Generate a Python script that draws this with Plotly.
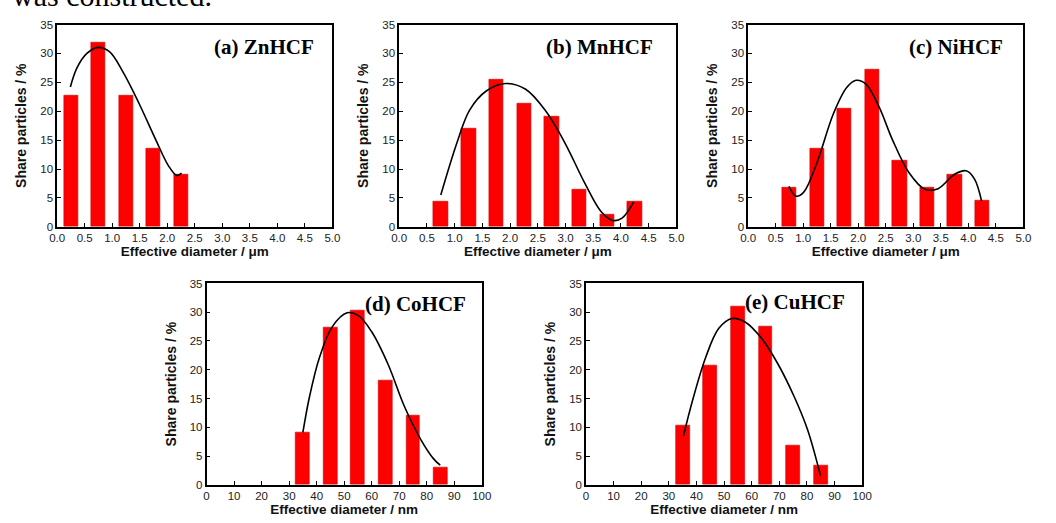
import plotly.graph_objects as go

W, H = 1056, 523

# ---- data ----
zn_x = [0.25, 0.75, 1.25, 1.75, 2.25]
zn_y = [22.7, 31.8, 22.7, 13.6, 9.1]
mn_x = [0.75, 1.25, 1.75, 2.25, 2.75, 3.25, 3.75, 4.25]
mn_y = [4.3, 17.0, 25.5, 21.3, 19.1, 6.4, 2.1, 4.3]
ni_x = [0.75, 1.25, 1.75, 2.25, 2.75, 3.25, 3.75, 4.25]
ni_y = [6.8, 13.6, 20.5, 27.3, 11.4, 6.8, 9.1, 4.5]
co_x = [35, 45, 55, 65, 75, 85]
co_y = [9.1, 27.3, 30.3, 18.2, 12.1, 3.0]
cu_x = [35, 45, 55, 65, 75, 85]
cu_y = [10.3, 20.7, 31.0, 27.6, 6.9, 3.4]

# fitted curves
zn_fx = [0.24, 0.36, 0.54, 0.74, 0.95, 1.19, 1.49, 1.79, 2.02, 2.17, 2.26]
zn_fy = [24.2, 27.5, 30.0, 31.05, 30.3, 26.9, 21.3, 15.1, 10.6, 8.9, 9.3]
mn_fx = [0.75, 1.04, 1.27, 1.57, 1.92, 2.28, 2.63, 2.99, 3.34, 3.64, 3.85, 4.02, 4.23]
mn_fy = [5.5, 14.5, 20.2, 23.5, 24.8, 23.8, 20.2, 14.5, 7.7, 2.65, 1.1, 1.5, 4.3]
ni_fx = [0.74, 0.87, 1.01, 1.25, 1.55, 1.79, 1.96, 2.14, 2.38, 2.62, 2.92, 3.21, 3.45, 3.75, 3.96, 4.11, 4.24]
ni_fy = [7.0, 5.3, 6.0, 11.1, 19.6, 24.1, 25.35, 24.7, 20.7, 15.1, 9.4, 6.5, 6.6, 9.1, 9.7, 8.3, 4.5]
co_fx = [35.0, 37.4, 41.0, 45.7, 51.1, 55.2, 60.0, 65.9, 71.9, 77.8, 82.5, 84.9]
co_fy = [9.1, 15.3, 22.1, 27.5, 29.9, 29.4, 26.6, 21.0, 13.6, 7.9, 4.5, 3.4]
cu_fx = [35.3, 38.6, 43.3, 48.1, 52.9, 57.6, 63.5, 69.5, 75.4, 80.2, 84.9]
cu_fy = [8.5, 14.7, 22.1, 27.2, 28.9, 28.3, 25.5, 21.0, 15.3, 9.6, 1.6]

labels = ["(a) ZnHCF", "(b) MnHCF", "(c) NiHCF", "(d) CoHCF", "(e) CuHCF"]
label_pos = [(4.7, 31.1), (4.62, 31.2), (4.67, 31.1), (95.0, 31.4), (94.4, 31.7)]

um_ticks = [0.0, 0.5, 1.0, 1.5, 2.0, 2.5, 3.0, 3.5, 4.0, 4.5, 5.0]
nm_ticks = [0, 10, 20, 30, 40, 50, 60, 70, 80, 90, 100]
y_ticks = [0, 5, 10, 15, 20, 25, 30, 35]

# panel boxes in pixels (left, right, top, bottom)
boxes = [(50, 330, 19, 226), (398, 680, 19, 226), (753, 1033, 19, 226),
         (202, 482, 284, 490), (588, 869, 284, 490)]

panels = [
    (zn_x, zn_y, zn_fx, zn_fy, 0.26, "um"),
    (mn_x, mn_y, mn_fx, mn_fy, 0.26, "um"),
    (ni_x, ni_y, ni_fx, ni_fy, 0.26, "um"),
    (co_x, co_y, co_fx, co_fy, 5.0, "nm"),
    (cu_x, cu_y, cu_fx, cu_fy, 5.0, "nm"),
]

fig = go.Figure()
layout = {}
annotations = []
tickfont = dict(family="Liberation Sans, Arial", size=11.5, color="#222")
xtitlefont = dict(family="Liberation Sans, Arial", size=13.5, color="#111")
ytitlefont = dict(family="Liberation Sans, Arial", size=14, color="#111")

for i, ((bx, by, fx, fy, bw, unit), (l, r, t, b)) in enumerate(zip(panels, boxes)):
    n = "" if i == 0 else str(i + 1)
    xa, ya = "x" + n, "y" + n
    fig.add_trace(go.Bar(x=bx, y=by, width=bw, xaxis=xa, yaxis=ya,
                         marker=dict(color="#ff0000", line=dict(color="#cc0000", width=0.6)),
                         showlegend=False))
    fig.add_trace(go.Scatter(x=fx, y=fy, mode="lines", xaxis=xa, yaxis=ya,
                             line=dict(color="black", width=1.6, shape="spline", smoothing=1.0),
                             showlegend=False))
    if unit == "um":
        xr, xt, xtt, xtitle = [0, 5], um_ticks, [f"{v:.1f}" for v in um_ticks], "Effective diameter / μm"
    else:
        xr, xt, xtt, xtitle = [0, 100], nm_ticks, [str(v) for v in nm_ticks], "Effective diameter / nm"
    layout["xaxis" + n] = dict(
        domain=[l / W, r / W], anchor=ya, range=xr, tickvals=xt, ticktext=xtt,
        ticks="inside", ticklen=4, tickwidth=1.2, tickcolor="black",
        showline=True, linecolor="black", linewidth=1.5, mirror=True,
        showgrid=False, zeroline=False, tickfont=tickfont,
        title=dict(text="<b>" + xtitle + "</b>", font=xtitlefont, standoff=1))
    layout["yaxis" + n] = dict(
        domain=[1 - b / H, 1 - t / H], anchor=xa, range=[0, 35], tickvals=y_ticks,
        ticks="inside", ticklen=4, tickwidth=1.2, tickcolor="black",
        showline=True, linecolor="black", linewidth=1.5, mirror=True,
        showgrid=False, zeroline=False, tickfont=tickfont,
        title=dict(text="<b>Share particles / %</b>", font=ytitlefont, standoff=10))
    lx, ly = label_pos[i]
    annotations.append(dict(text="<b>" + labels[i] + "</b>", x=lx, y=ly, xref=xa, yref=ya,
                            xanchor="right", yanchor="middle", showarrow=False,
                            font=dict(family="Liberation Serif, Times New Roman", size=21, color="black")))

annotations.append(dict(text="was constructed.", x=2 / W, y=1 - 8 / H, xref="paper", yref="paper",
                        xanchor="left", yanchor="bottom", showarrow=False,
                        font=dict(family="Liberation Serif, Times New Roman", size=30, color="black")))

fig.update_layout(**layout)
fig.update_layout(width=W, height=H, margin=dict(l=0, r=0, t=0, b=0),
                  paper_bgcolor="white", plot_bgcolor="white",
                  annotations=annotations, bargap=0)
fig.write_html("out.html")
